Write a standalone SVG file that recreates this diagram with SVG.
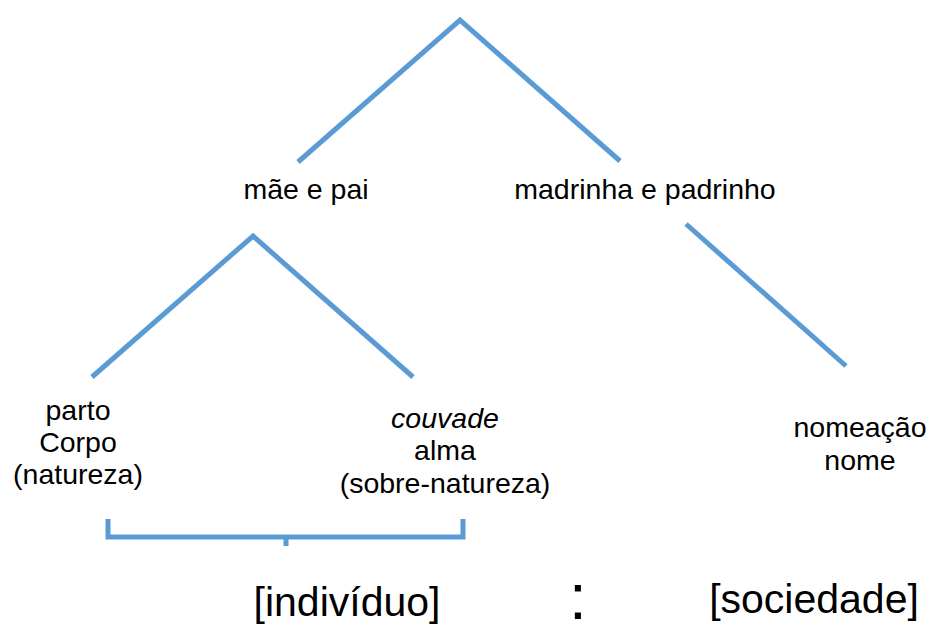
<svg xmlns="http://www.w3.org/2000/svg" width="930" height="626" viewBox="0 0 930 626">
<style>
.ln{stroke:#5B9BD5;stroke-width:5;fill:none;stroke-linejoin:miter}
text{font-family:"Liberation Sans",Arial,sans-serif;fill:#000;text-anchor:middle}
.t{font-size:28.5px}
.b{font-size:41px}
</style>
<rect width="930" height="626" fill="#fff"/>
<g id="connectors">
<polyline class="ln" points="298,162 460,20 620,161"/>
<polyline class="ln" points="92,377 253,236 413,377"/>
<line class="ln" x1="686" y1="224" x2="846" y2="366"/>
<path class="ln" d="M108,519 V537 H463 V519 M286,537 V546"/>
</g>
<g id="n-maepai"><text class="t" x="306" y="199">mãe e pai</text></g>
<g id="n-madrinha"><text class="t" x="645" y="199">madrinha e padrinho</text></g>
<g id="n-parto"><text class="t" x="78" y="420">parto</text><text class="t" x="78" y="452">Corpo</text><text class="t" x="78" y="484">(natureza)</text></g>
<g id="n-couvade"><text class="t" x="445" y="428" font-style="italic">couvade</text><text class="t" x="445" y="460">alma</text><text class="t" x="445" y="493">(sobre-natureza)</text></g>
<g id="n-nomeacao"><text class="t" x="860" y="437">nomeação</text><text class="t" x="860" y="470">nome</text></g>
<g id="n-individuo"><text class="b" x="347" y="616">[indivíduo]</text></g>
<g id="n-colon"><text x="578" y="619" font-size="64">:</text></g>
<g id="n-sociedade"><text class="b" x="814" y="613">[sociedade]</text></g>
</svg>
